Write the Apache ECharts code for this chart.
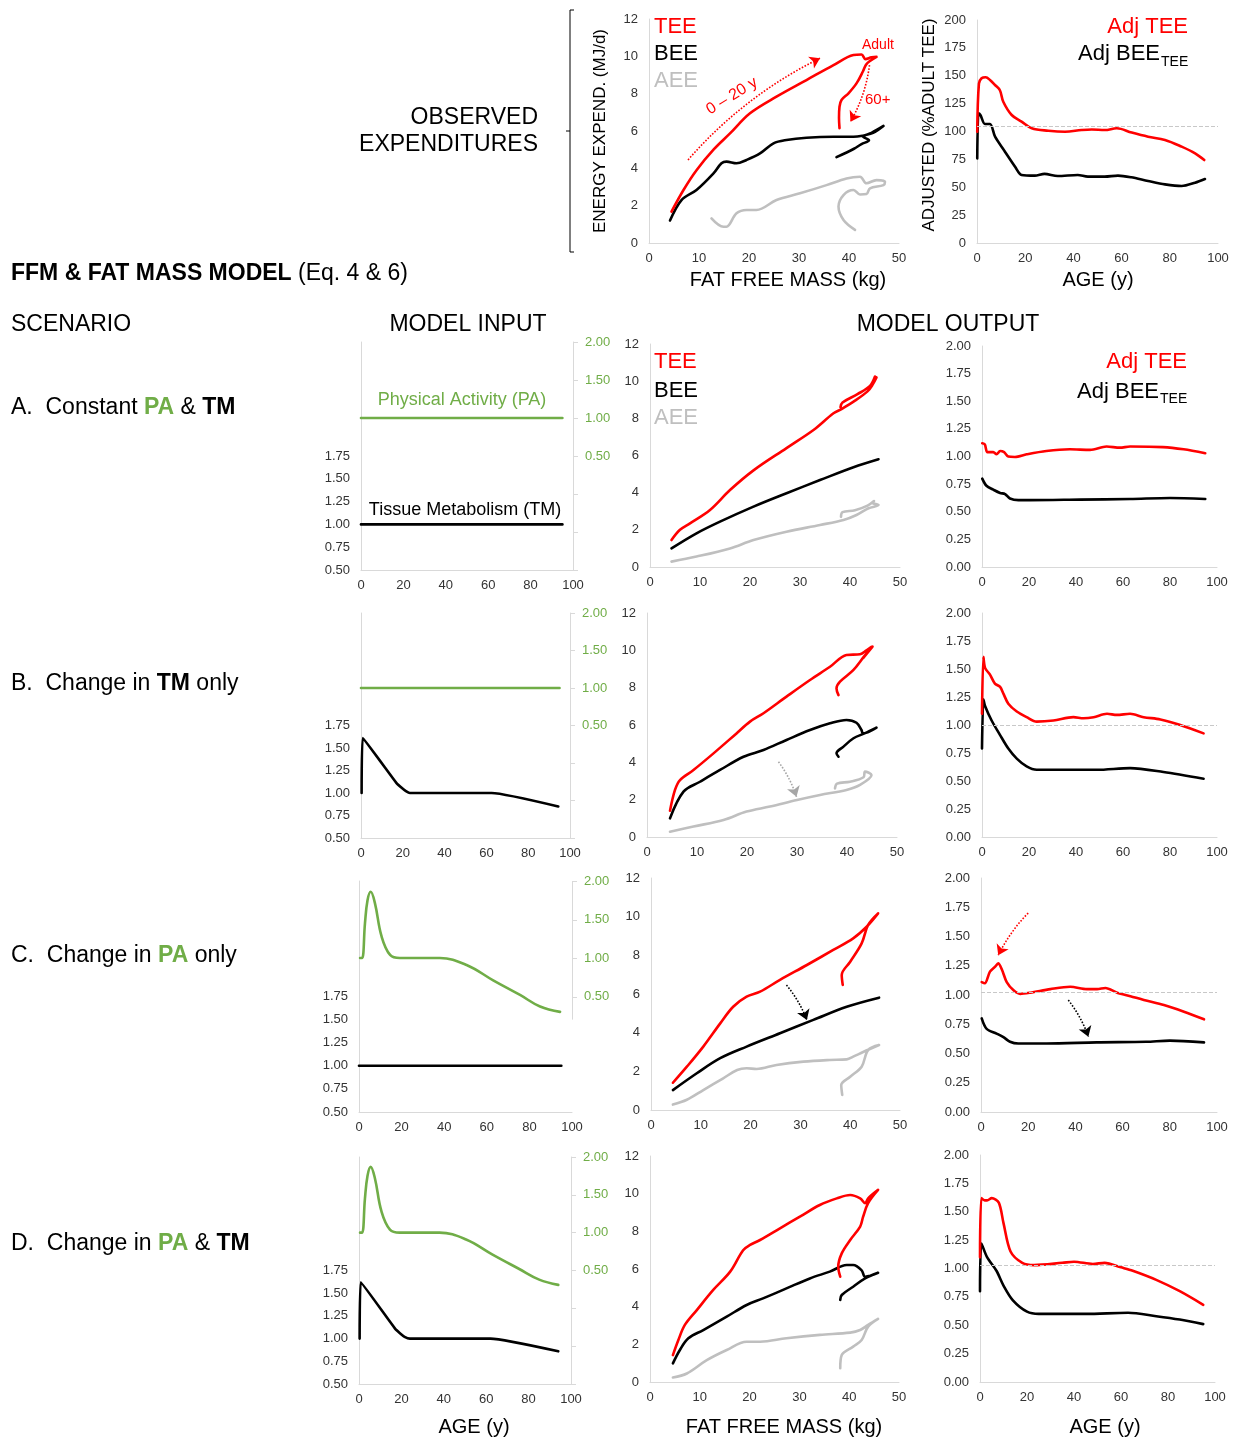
<!DOCTYPE html>
<html><head><meta charset="utf-8">
<script src="https://cdn.jsdelivr.net/npm/echarts@6/dist/echarts.min.js"></script>
<style>html,body{margin:0;padding:0;background:#fff}#c{width:1237px;height:1441px}</style>
</head><body><div id="c"></div>
<script>
// ---------------- DATA ----------------
// Observed (top row): [FFM kg, MJ/d] and [age y, % adult TEE]
const obsTEE = [[4.5,1.68],[6.9,2.84],[9.5,3.9],[12.9,5.0],[16.2,5.87],[20.2,6.95],[25.5,7.84],[31.5,8.73],[36.9,9.53],[40.9,10.07],[42.5,10.1],[43.3,9.85],[44.5,9.95],[45.5,9.97],[44.2,9.75],[43.4,9.55],[42.8,9.2],[41.5,8.55],[39.9,8.02],[38.5,7.66],[38.1,7.3],[38.0,6.7],[38.1,6.15]];
const obsBEE = [[4.2,1.2],[6.5,2.3],[9.5,2.84],[12.9,3.73],[14.5,4.27],[15.5,4.36],[17.5,4.27],[19.5,4.45],[22.2,4.8],[24.9,5.34],[27.5,5.52],[31.5,5.64],[36.9,5.69],[40.9,5.69],[42.8,5.75],[44.3,5.85],[45.2,5.95],[46.9,6.27],[44.5,5.9],[42.8,5.7],[44.0,5.5],[42.5,5.3],[41.0,5.05],[37.5,4.6]];
const obsAEE = [[12.5,1.32],[14.9,0.87],[15.5,0.87],[17.5,1.59],[19.5,1.77],[21.5,1.77],[25.5,2.3],[30.2,2.66],[35.5,3.1],[39.5,3.46],[42.2,3.55],[43.5,3.2],[45.5,3.37],[47.2,3.28],[46.9,3.1],[44.2,2.93],[43.5,2.62],[42.2,2.6],[40.9,2.84],[38.9,2.57],[37.9,1.95],[38.9,1.23],[41.2,0.7]];
const obsAdjTEE = [[0.1,99.8],[0.8,143],[1.9,147.7],[3.6,148.6],[5.5,146],[7.5,141.7],[9.5,137],[10.9,126.7],[14.4,114.8],[18.5,108.8],[22.7,102.9],[29.6,100.7],[36.5,99.8],[43.4,101.3],[47.6,101.8],[53,101.3],[58,102.9],[64.2,99],[71,95.3],[78,92.4],[84.9,86.4],[90.5,80.4],[94.3,74.4]];
const obsAdjBEE = [[0.1,75.9],[0.6,116.3],[1.4,114.8],[3.3,106.7],[5.4,106.7],[7.5,95.3],[11.6,81.9],[15.8,68.4],[18.5,61],[24,60.4],[28,62],[33.5,60.1],[41.8,61],[46,59.5],[53,59.5],[58.5,60.4],[64,58.9],[71,55.6],[78,52.6],[84.9,51.1],[90.5,54.1],[94.6,57.4]];
const obsRef = 105;

// Scenario A
const inA_PA = [[0,1],[95,1]];
const inA_TM = [[0,1],[95,1]];
const ffmA_TEE = [[4.3,1.45],[6,2.0],[8,2.35],[12,3.07],[16,4.14],[20.7,5.2],[27.3,6.4],[32.7,7.37],[36.7,8.27],[38.3,8.5],[41,8.95],[43.5,9.45],[44.5,9.8],[45.3,10.2],[44.8,9.95],[45,10.25],[44,9.75],[41.5,9.3],[38.5,8.85],[38.1,8.6]];
const ffmA_BEE = [[4.3,1.0],[9.3,1.81],[14,2.44],[20.7,3.25],[27.3,3.97],[34,4.68],[40.7,5.37],[45.7,5.8]];
const ffmA_AEE = [[4.3,0.29],[9.3,0.56],[16,1.0],[20.7,1.45],[27.3,1.9],[34,2.26],[38.7,2.53],[41.3,2.8],[43.7,3.16],[45.7,3.34],[44.5,3.45],[44.8,3.55],[43.5,3.3],[41,3.05],[38.5,2.95],[38.2,2.7]];
const ageA_TEE = [[0.1,1.12],[1.2,1.11],[2.3,1.04],[4.8,1.04],[6.2,1.02],[7.7,1.05],[9.4,1.04],[11.2,1.0],[14,0.996],[19,1.02],[27.4,1.05],[37.4,1.065],[46,1.06],[53,1.09],[58.7,1.08],[63,1.09],[77,1.085],[85.8,1.065],[95,1.03]];
const ageA_BEE = [[0.1,0.8],[1.9,0.735],[4.8,0.70],[7.7,0.67],[9.8,0.66],[11.9,0.62],[15.5,0.605],[20.4,0.605],[41.6,0.61],[63,0.615],[80,0.625],[95,0.615]];

// Scenario B
const inB_PA = [[0,1],[95,1]];
const inB_TM = [[0.3,1.0],[0.8,1.61],[17,1.11],[19.3,1.06],[21.5,1.02],[23.4,1.0],[62.5,1.0],[94.4,0.85]];
const ffmB_TEE = [[4.6,1.41],[5.6,2.52],[6.6,3.05],[9.3,3.59],[13.3,4.48],[17.9,5.55],[20.6,6.18],[23.3,6.63],[27.9,7.52],[32.6,8.41],[36.6,9.12],[39.9,9.75],[42.6,9.79],[43.9,10.0],[44.9,10.19],[43.3,9.6],[45.1,10.2],[43.5,9.7],[41.3,8.95],[38.6,8.32],[37.9,7.96],[38.3,7.6]];
const ffmB_BEE = [[4.6,1.0],[7.3,2.43],[10.6,2.96],[14.6,3.59],[19.3,4.3],[23.3,4.66],[27.9,5.2],[32.6,5.73],[36.6,6.09],[39.9,6.27],[41.9,6.12],[42.9,5.73],[43.2,5.55],[45.9,5.86],[43.5,5.55],[41.3,5.29],[39.3,4.84],[37.9,4.48],[38.3,4.3]];
const ffmB_AEE = [[4.6,0.28],[9.3,0.56],[15.3,0.91],[19.9,1.36],[24.6,1.63],[30,1.98],[34.6,2.25],[39.9,2.52],[42.6,2.79],[44.9,3.32],[43.6,3.5],[43.3,3.2],[40.6,2.96],[38,2.86],[37.6,2.6]];
const ageB_TEE = [[0,1.10],[0.6,1.61],[1.3,1.51],[3.4,1.45],[5.5,1.37],[7.7,1.34],[9.1,1.28],[11.2,1.19],[14.8,1.12],[19,1.07],[23.3,1.03],[30.4,1.04],[38.9,1.07],[43.2,1.06],[47.5,1.07],[53.2,1.10],[57.4,1.09],[63,1.10],[68.8,1.07],[75.9,1.05],[84.4,1.0],[94.3,0.925]];
const ageB_BEE = [[0,0.79],[0.6,1.23],[1.3,1.17],[4.1,1.04],[7.7,0.91],[11.2,0.79],[14.8,0.70],[19,0.63],[23.3,0.60],[48.9,0.60],[63,0.615],[77.2,0.58],[94.3,0.52]];
const refB = 1.0;
const arrowB_ffm = [[26.3,4.03],[29.9,2.16]];

// Scenario C
const inC_PA = [[0.5,1.0],[1.5,1.0],[2.8,1.45],[4,1.75],[5.5,1.86],[7.5,1.71],[10.6,1.28],[14.6,1.04],[19.2,1.0],[28.7,1.0],[38,1.0],[50.5,0.91],[63,0.71],[75.6,0.52],[85,0.37],[94.4,0.30]];
const inC_TM = [[0,1],[95,1]];
const ffmC_TEE = [[4.4,1.41],[7.2,2.24],[10.5,3.28],[13.9,4.48],[16.5,5.34],[19.2,5.86],[21.9,6.12],[25.9,6.73],[31.3,7.5],[36.6,8.28],[40.6,8.88],[43.3,9.48],[45.6,10.17],[43.6,9.57],[42.3,8.62],[40,7.67],[38.3,6.98],[38.5,6.47]];
const ffmC_BEE = [[4.4,1.03],[9.2,1.9],[13.9,2.68],[19.2,3.28],[25.9,3.97],[32.6,4.66],[39.3,5.34],[45.8,5.81]];
const ffmC_AEE = [[4.4,0.28],[7.2,0.53],[10.5,1.03],[14.5,1.64],[17.3,2.07],[19.2,2.16],[21.2,2.12],[25.2,2.33],[30.6,2.5],[35.9,2.59],[39.3,2.62],[40.6,2.76],[42.6,3.0],[45.8,3.36],[43.6,3.1],[42.3,2.24],[40,1.72],[38.2,1.29],[38.4,0.78]];
const ageC_TEE = [[0.3,1.11],[1.6,1.10],[3.8,1.20],[5.9,1.24],[7.3,1.27],[8.8,1.22],[10.9,1.11],[13.8,1.04],[16.6,1.01],[20.9,1.02],[29.4,1.05],[37.8,1.07],[44.9,1.05],[49.2,1.05],[52.7,1.06],[57.7,1.02],[63.3,0.99],[69,0.957],[77.5,0.914],[86,0.857],[94.5,0.792]];
const ageC_BEE = [[0.3,0.80],[2.4,0.71],[6.6,0.67],[9.5,0.64],[12.3,0.60],[15.8,0.585],[27.8,0.585],[49,0.595],[70,0.60],[80,0.61],[94.5,0.595]];
const refC = 1.025;
const arrowC_ffm = [[27.2,6.47],[31.3,4.66]];
const arrowC_ageRed = [[20,1.70],[7.3,1.34]];
const arrowC_ageBlack = [[37,0.957],[45.5,0.644]];
const paAxisC_ticks = [0.5, 1.0, 1.5, 2.0];
const paAxisC_lineEnd = 0.2;

// Scenario D
const inD_PA = [[0.5,1.0],[1.5,1.0],[2.8,1.45],[4,1.75],[5.5,1.87],[7.5,1.72],[10.6,1.28],[14.6,1.04],[19.2,1.0],[28.7,1.0],[38,1.0],[50.5,0.91],[63,0.71],[75.6,0.52],[85,0.38],[94,0.31]];
const inD_TM = [[0.3,1.0],[0.8,1.62],[17,1.11],[19.3,1.06],[21.5,1.02],[24,1.0],[62,1.0],[94,0.86]];
const ffmD_TEE = [[4.6,1.43],[5.7,2.23],[7,3.03],[9.4,3.82],[12.7,4.89],[16.1,5.86],[18.7,7.0],[20.1,7.28],[22.1,7.54],[26.1,8.16],[30.1,8.78],[34.1,9.4],[37.5,9.75],[40.2,9.93],[42.2,9.75],[43.2,9.49],[43.8,9.75],[45.8,10.2],[43.8,9.5],[42.8,8.78],[42.2,8.25],[40.2,7.54],[38.5,6.83],[37.8,6.12],[38.2,5.59]];
const ffmD_BEE = [[4.6,0.99],[6,1.7],[7.7,2.32],[10.7,2.76],[15.4,3.47],[19.4,4.09],[22.7,4.44],[27.4,4.97],[32.1,5.5],[36.1,5.86],[39.5,6.21],[40.8,6.21],[42.5,5.93],[43.2,5.59],[45.8,5.8],[43.2,5.5],[40.8,5.06],[38.5,4.62],[38.2,4.36]];
const ffmD_AEE = [[4.6,0.24],[7.4,0.45],[11.4,1.16],[15.4,1.7],[19.4,2.14],[22.1,2.14],[27.4,2.32],[34.1,2.5],[40.2,2.62],[42.2,2.76],[43.8,3.03],[45.8,3.35],[43.8,2.94],[42.5,2.23],[40.8,1.88],[38.5,1.43],[38.2,0.73]];
const ageD_TEE = [[0,1.1],[0.6,1.62],[2,1.6],[3,1.6],[5,1.62],[8,1.58],[10,1.4],[13,1.15],[18,1.05],[23,1.03],[35,1.05],[40,1.06],[48,1.04],[53,1.05],[60,1.01],[65,0.98],[75,0.9],[85,0.8],[95,0.68]];
const ageD_BEE = [[0,0.8],[0.6,1.22],[3,1.1],[7,0.98],[10,0.85],[14,0.72],[20,0.62],[25,0.60],[45,0.60],[63,0.61],[75,0.58],[85,0.55],[95,0.51]];
const refD = 1.03;

// Observed annotation arrows
const arrowObsGrowth = [[7.8,4.45],[34.2,9.9]];
const arrowObsOld = [[44.1,9.53],[40.3,6.5]];

// ---------------- STYLE / BUILD ----------------
const FONT = '"Liberation Sans", Arial, Helvetica, sans-serif';
const RED = '#FF0000', BLACK = '#000000', GRAY = '#BFBFBF', GREEN = '#70AD47', AXIS = '#D9D9D9', LABEL = '#333333';

const grid = [], xAxis = [], yAxis = [], series = [], graphic = [];

function addGrid(b) { grid.push(Object.assign({ containLabel: false, outerBoundsMode: 'none' }, b)); return grid.length - 1; }
function lbl(extra) { return Object.assign({ fontSize: 13, color: LABEL, fontFamily: FONT }, extra || {}); }
function addX(gi, min, max, interval) {
  xAxis.push({ type: 'value', gridIndex: gi, min, max, interval,
    axisLine: { show: true, onZero: false, lineStyle: { color: AXIS, width: 1 } },
    axisTick: { show: false }, splitLine: { show: false }, axisLabel: lbl({ margin: 9 }) });
  return xAxis.length - 1;
}
function addY(gi, min, max, interval, fmt, extra) {
  yAxis.push(Object.assign({ type: 'value', gridIndex: gi, min, max, interval, position: 'left',
    axisLine: { show: true, onZero: false, lineStyle: { color: AXIS, width: 1 } },
    axisTick: { show: false }, splitLine: { show: false }, axisLabel: lbl({ margin: 11, formatter: fmt }) }, extra || {}));
  return yAxis.length - 1;
}
function ln(xi, yi, data, color, smooth, extra) {
  return Object.assign({ type: 'line', xAxisIndex: xi, yAxisIndex: yi, data, symbol: 'none', showSymbol: false,
    smooth: smooth === undefined ? 0.35 : smooth, silent: true, animation: false, clip: false,
    lineStyle: { color, width: 2.6, cap: 'round', join: 'round' }, itemStyle: { color } }, extra || {});
}
// dotted annotation arrows, drawn by a 'lines' series on the cartesian axes (supports curvature)
function arrows(xi, yi, items) {
  return { type: 'lines', coordinateSystem: 'cartesian2d', xAxisIndex: xi, yAxisIndex: yi, silent: true, animation: false,
    polyline: false, symbol: ['none', 'arrow'], symbolSize: [7, 10], effect: { show: false }, z: 5,
    data: items.map(it => ({ coords: it.pair, lineStyle: { type: 'dotted', color: it.color, width: 1.6, curveness: it.curve || 0, opacity: 1 } })) };
}
function refItem(v) { return { yAxis: v, lineStyle: { type: 'dashed', color: '#C8C8C8', width: 1 } }; }
function mlRef(items) { return { silent: true, symbol: ['none', 'none'], label: { show: false }, animation: false, precision: 4, data: items }; }

function txt(text, x, y, size, color, align, opt) {
  opt = opt || {};
  graphic.push({ type: 'text', x, y, rotation: opt.rotation || 0, silent: true,
    style: { text, fill: color, fontSize: size, fontFamily: FONT, fontWeight: opt.bold ? 'bold' : 'normal',
      textAlign: align || 'left', textVerticalAlign: 'middle', align: align || 'left', verticalAlign: 'middle', rich: opt.rich } });
}

const f2 = v => v.toFixed(2);
const f0 = v => String(Math.round(v));

// ---- Observed FFM chart
{
  const g = addGrid({ left: 649, top: 19, width: 250, height: 224 });
  const xi = addX(g, 0, 50, 10), yi = addY(g, 0, 12, 2, f0);
  series.push(ln(xi, yi, obsAEE, GRAY));
  series.push(ln(xi, yi, obsBEE, BLACK));
  series.push(ln(xi, yi, obsTEE, RED));
  series.push(arrows(xi, yi, [{ pair: arrowObsGrowth, color: RED, curve: 0.1 }, { pair: arrowObsOld, color: RED, curve: 0.1 }]));
}
// ---- Observed Adj chart
{
  const g = addGrid({ left: 977, top: 20, width: 241, height: 223 });
  const xi = addX(g, 0, 100, 20), yi = addY(g, 0, 200, 25, f0);
  series.push(ln(xi, yi, obsAdjBEE, BLACK, 0.3, { markLine: mlRef([refItem(obsRef)]) }));
  series.push(ln(xi, yi, obsAdjTEE, RED));
}

// ---- Model rows
const rows = [
  { inG: { left: 361, top: 342, width: 212, height: 228 }, ffmG: { left: 650, top: 344, width: 250, height: 223 }, ageG: { left: 982, top: 346, width: 235, height: 221 },
    PA: inA_PA, TM: inA_TM, TEE: ffmA_TEE, BEE: ffmA_BEE, AEE: ffmA_AEE, aT: ageA_TEE, aB: ageA_BEE, ref: null },
  { inG: { left: 361, top: 613, width: 209, height: 225 }, ffmG: { left: 647, top: 613, width: 250, height: 224 }, ageG: { left: 982, top: 613, width: 235, height: 224 },
    PA: inB_PA, TM: inB_TM, TEE: ffmB_TEE, BEE: ffmB_BEE, AEE: ffmB_AEE, aT: ageB_TEE, aB: ageB_BEE, ref: refB,
    ffmArrows: [{ pair: arrowB_ffm, color: '#A6A6A6', curve: 0.08 }] },
  { inG: { left: 359, top: 881, width: 213, height: 231 }, ffmG: { left: 651, top: 878, width: 249, height: 232 }, ageG: { left: 981, top: 878, width: 236, height: 234 },
    PA: inC_PA, TM: inC_TM, TEE: ffmC_TEE, BEE: ffmC_BEE, AEE: ffmC_AEE, aT: ageC_TEE, aB: ageC_BEE, ref: refC, shortPA: true,
    ffmArrows: [{ pair: arrowC_ffm, color: BLACK, curve: 0.08 }],
    ageArrows: [{ pair: arrowC_ageRed, color: RED, curve: -0.08 }, { pair: arrowC_ageBlack, color: BLACK, curve: 0.08 }] },
  { inG: { left: 359, top: 1157, width: 212, height: 227 }, ffmG: { left: 650, top: 1156, width: 249, height: 226 }, ageG: { left: 980, top: 1155, width: 235, height: 227 },
    PA: inD_PA, TM: inD_TM, TEE: ffmD_TEE, BEE: ffmD_BEE, AEE: ffmD_AEE, aT: ageD_TEE, aB: ageD_BEE, ref: refD }
];

let shortPAaxis = null;
rows.forEach(r => {
  // input chart
  const gi = addGrid(r.inG);
  const xi = addX(gi, 0, 100, 20);
  const yTM = addY(gi, 0.5, 3.0, 0.25, v => (v <= 1.76 ? v.toFixed(2) : ''));
  const yPA = addY(gi, -1, 2, 0.5, v => (v >= 0.49 ? v.toFixed(2) : ''), {
    position: 'right',
    axisLine: { show: !r.shortPA, onZero: false, lineStyle: { color: AXIS, width: 1 } },
    axisTick: { show: !r.shortPA, length: 5, lineStyle: { color: AXIS } },
    axisLabel: lbl({ margin: 12, color: GREEN, formatter: v => (v >= 0.49 ? v.toFixed(2) : '') })
  });
  if (r.shortPA) shortPAaxis = { yi: yPA, xi };
  series.push(ln(xi, yPA, r.PA, GREEN, 0.4));
  series.push(ln(xi, yTM, r.TM, BLACK, 0.15));

  // FFM chart
  const gf = addGrid(r.ffmG);
  const xf = addX(gf, 0, 50, 10), yf = addY(gf, 0, 12, 2, f0);
  series.push(ln(xf, yf, r.AEE, GRAY));
  series.push(ln(xf, yf, r.BEE, BLACK));
  series.push(ln(xf, yf, r.TEE, RED));
  if (r.ffmArrows) series.push(arrows(xf, yf, r.ffmArrows));

  // Age chart
  const ga = addGrid(r.ageG);
  const xa = addX(ga, 0, 100, 20), ya = addY(ga, 0, 2, 0.25, f2);
  series.push(ln(xa, ya, r.aB, BLACK, 0.3, r.ref !== null ? { markLine: mlRef([refItem(r.ref)]) } : {}));
  series.push(ln(xa, ya, r.aT, RED, 0.3));
  if (r.ageArrows) series.push(arrows(xa, ya, r.ageArrows));
});

// ---------------- TEXT ----------------
txt('OBSERVED', 538, 118, 23, BLACK, 'right');
txt('EXPENDITURES', 538, 145, 23, BLACK, 'right');
graphic.push({ type: 'polyline', silent: true, shape: { points: [[574, 10], [570, 10], [570, 252], [574, 252]] }, style: { stroke: '#000', lineWidth: 1, fill: null } });
graphic.push({ type: 'line', silent: true, shape: { x1: 566, y1: 131, x2: 570, y2: 131 }, style: { stroke: '#000', lineWidth: 1 } });

txt('ENERGY EXPEND. (MJ/d)', 600, 131, 17, BLACK, 'center', { rotation: Math.PI / 2 });
txt('ADJUSTED (%ADULT TEE)', 929, 125, 17, BLACK, 'center', { rotation: Math.PI / 2 });
txt('FAT FREE MASS (kg)', 788, 280, 20, BLACK, 'center');
txt('AGE (y)', 1098, 280, 20, BLACK, 'center');

// legends observed
txt('TEE', 654, 27, 22, RED, 'left');
txt('BEE', 654, 54, 22, BLACK, 'left');
txt('AEE', 654, 81, 22, GRAY, 'left');
txt('Adj TEE', 1188, 27, 22, RED, 'right');
txt('Adj BEE', 1160, 54, 22, BLACK, 'right');
txt('TEE', 1161, 62, 14, BLACK, 'left');
txt('Adult', 862, 45, 14, RED, 'left');
txt('60+', 865, 100, 15, RED, 'left');
txt('0 – 20 y', 732, 96, 16, RED, 'center', { rotation: 0.55 });

// headings
const richHead = {
  b: { fontWeight: 'bold', fontSize: 23, fill: BLACK, fontFamily: FONT },
  n: { fontWeight: 'normal', fontSize: 23, fill: BLACK, fontFamily: FONT },
  g: { fontWeight: 'bold', fontSize: 23, fill: GREEN, fontFamily: FONT }
};
txt('{b|FFM & FAT MASS MODEL} {n|(Eq. 4 & 6)}', 11, 274, 23, BLACK, 'left', { rich: richHead });
txt('SCENARIO', 11, 325, 23, BLACK, 'left');
txt('MODEL INPUT', 468, 325, 23, BLACK, 'center');
txt('MODEL OUTPUT', 948, 325, 23, BLACK, 'center');

txt('{n|A.  Constant }{g|PA}{n| & }{b|TM}', 11, 408, 23, BLACK, 'left', { rich: richHead });
txt('{n|B.  Change in }{b|TM}{n| only}', 11, 684, 23, BLACK, 'left', { rich: richHead });
txt('{n|C.  Change in }{g|PA}{n| only}', 11, 956, 23, BLACK, 'left', { rich: richHead });
txt('{n|D.  Change in }{g|PA}{n| & }{b|TM}', 11, 1244, 23, BLACK, 'left', { rich: richHead });

txt('Physical Activity (PA)', 462, 400, 18, GREEN, 'center');
txt('Tissue Metabolism (TM)', 465, 510, 18, BLACK, 'center');

txt('TEE', 654, 362, 22, RED, 'left');
txt('BEE', 654, 391, 22, BLACK, 'left');
txt('AEE', 654, 418, 22, GRAY, 'left');
txt('Adj TEE', 1187, 362, 22, RED, 'right');
txt('Adj BEE', 1159, 392, 22, BLACK, 'right');
txt('TEE', 1160, 399, 14, BLACK, 'left');

txt('AGE (y)', 474, 1427, 20, BLACK, 'center');
txt('FAT FREE MASS (kg)', 784, 1427, 20, BLACK, 'center');
txt('AGE (y)', 1105, 1427, 20, BLACK, 'center');

const chart = echarts.init(document.getElementById('c'), null, { renderer: 'canvas', width: 1237, height: 1441 });
chart.setOption({ animation: false, backgroundColor: '#ffffff', grid, xAxis, yAxis, series, graphic });

// Scenario C: the PA axis line in the source stops part-way down; draw it through the axis scale
if (shortPAaxis) {
  const ax = shortPAaxis;
  const xRight = chart.convertToPixel({ xAxisIndex: ax.xi }, 100);
  const yTop = chart.convertToPixel({ yAxisIndex: ax.yi }, 2.0);
  const yEnd = chart.convertToPixel({ yAxisIndex: ax.yi }, paAxisC_lineEnd);
  const extra = [{ type: 'line', silent: true, shape: { x1: xRight + 0.5, y1: yTop, x2: xRight + 0.5, y2: yEnd }, style: { stroke: AXIS, lineWidth: 1 } }];
  paAxisC_ticks.forEach(v => {
    const yy = Math.round(chart.convertToPixel({ yAxisIndex: ax.yi }, v)) + 0.5;
    extra.push({ type: 'line', silent: true, shape: { x1: xRight, y1: yy, x2: xRight + 5, y2: yy }, style: { stroke: AXIS, lineWidth: 1 } });
  });
  chart.setOption({ graphic: graphic.concat(extra) });
}
</script></body></html>
